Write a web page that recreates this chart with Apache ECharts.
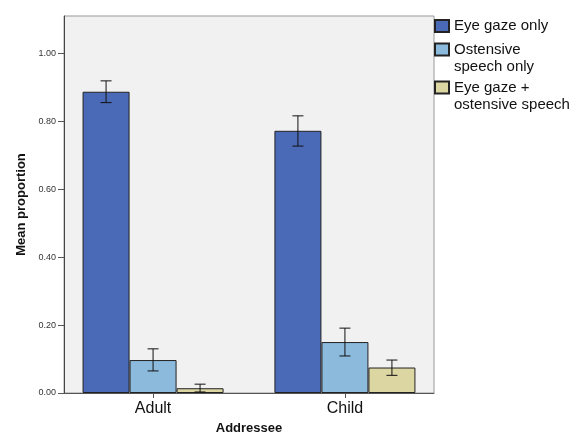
<!DOCTYPE html>
<html>
<head>
<meta charset="utf-8">
<script src="https://cdn.jsdelivr.net/npm/echarts@6/dist/echarts.min.js"></script>
<style>html,body{margin:0;padding:0;background:#fff}#c{width:583px;height:434px}</style>
</head>
<body>
<div id="c"></div>
<script>
// ---- data ----
const categories = ['Adult', 'Child'];
const seriesNames = ['Eye gaze only', 'Ostensive\nspeech only', 'Eye gaze +\nostensive speech'];
const eyeGaze = [0.887, 0.772];
const ostensive = [0.097, 0.150];
const combined = [0.014, 0.075];
const eyeGazeErr = [[0.855, 0.919], [0.727, 0.816]];
const ostensiveErr = [[0.065, 0.130], [0.109, 0.191]];
const combinedErr = [[0.003, 0.026], [0.052, 0.097]];
const yTicks = [0, 0.2, 0.4, 0.6, 0.8, 1.0];
const categoryPositions = [0, 1];

const means = [eyeGaze, ostensive, combined];
const errs = [eyeGazeErr, ostensiveErr, combinedErr];
const colors = ['#4A69B6', '#8BBADC', '#DCD6A2'];
const BAR_W = 47;
const FONT = 'Liberation Sans';

const chart = echarts.init(document.getElementById('c'), null, {renderer: 'canvas'});

const series = [];
means.forEach((vals, i) => {
  series.push({
    type: 'bar',
    name: seriesNames[i],
    data: vals.map((v, k) => [categoryPositions[k], v]),
    barWidth: BAR_W,
    barGap: '0%',
    itemStyle: {color: colors[i], borderColor: '#222', borderWidth: 1},
    emphasis: {disabled: true},
    z: 2
  });
});
errs.forEach((e, i) => {
  series.push({
    type: 'custom',
    name: 'err' + i,
    data: e.map((lh, k) => [categoryPositions[k], lh[0], lh[1]]),
    z: 5,
    silent: true,
    renderItem: function (params, api) {
      const x = api.value(0);
      const lo = api.coord([x, api.value(1)]);
      const hi = api.coord([x, api.value(2)]);
      const cx = lo[0] + (i - 1) * BAR_W;
      const cap = 5.5;
      const st = {stroke: '#111', lineWidth: 1};
      return {
        type: 'group',
        children: [
          {type: 'line', shape: {x1: cx, y1: lo[1], x2: cx, y2: hi[1]}, style: st},
          {type: 'line', shape: {x1: cx - cap, y1: lo[1], x2: cx + cap, y2: lo[1]}, style: st},
          {type: 'line', shape: {x1: cx - cap, y1: hi[1], x2: cx + cap, y2: hi[1]}, style: st}
        ]
      };
    }
  });
});

function legendCfg(name, top) {
  return {
    data: [name],
    left: 434,
    top: top,
    orient: 'vertical',
    padding: 0,
    itemWidth: 14,
    itemHeight: 12,
    itemGap: 0,
    icon: 'rect',
    selectedMode: false,
    formatter: n => (n.indexOf('\n') >= 0 ? '\n' + n : n),
    textStyle: {fontFamily: FONT, fontSize: 15, lineHeight: 17, color: '#111'}
  };
}

const option = {
  animation: false,
  backgroundColor: '#fff',
  grid: {
    left: 64, right: 583 - 434, top: 16, bottom: 434 - 393,
    outerBoundsMode: 'none',
    containLabel: false,
    show: true, backgroundColor: '#f1f1f1', borderColor: '#999', borderWidth: 1
  },
  legend: [
    legendCfg(seriesNames[0], 17.5),
    legendCfg(seriesNames[1], 24),
    legendCfg(seriesNames[2], 62)
  ],
  xAxis: {
    type: 'value',
    min: -0.4643,
    max: 1.4643,
    name: 'Addressee',
    nameLocation: 'middle',
    nameGap: 29,
    nameTextStyle: {fontFamily: FONT, fontSize: 13, fontWeight: 'bold', color: '#111'},
    axisLine: {show: true, onZero: false, lineStyle: {color: '#555', width: 1}},
    axisTick: {show: true, length: 5, lineStyle: {color: '#555'}, customValues: categoryPositions},
    axisLabel: {
      customValues: categoryPositions,
      formatter: v => categories[Math.round(v)] || '',
      fontFamily: FONT, fontSize: 16, color: '#111', margin: 8
    },
    splitLine: {show: false}
  },
  yAxis: {
    type: 'value',
    min: 0,
    max: 1.11,
    name: 'Mean proportion',
    nameLocation: 'middle',
    nameGap: 30,
    nameTextStyle: {fontFamily: FONT, fontSize: 13, fontWeight: 'bold', color: '#111'},
    axisLine: {show: true, onZero: false, lineStyle: {color: '#444', width: 1}},
    axisTick: {show: true, length: 6, lineStyle: {color: '#555'}, customValues: yTicks},
    axisLabel: {
      customValues: yTicks,
      formatter: v => v.toFixed(2),
      fontFamily: FONT, fontSize: 9, color: '#333', margin: 8
    },
    splitLine: {show: false}
  },
  series: series
};
chart.setOption(option);
</script>
</body>
</html>
